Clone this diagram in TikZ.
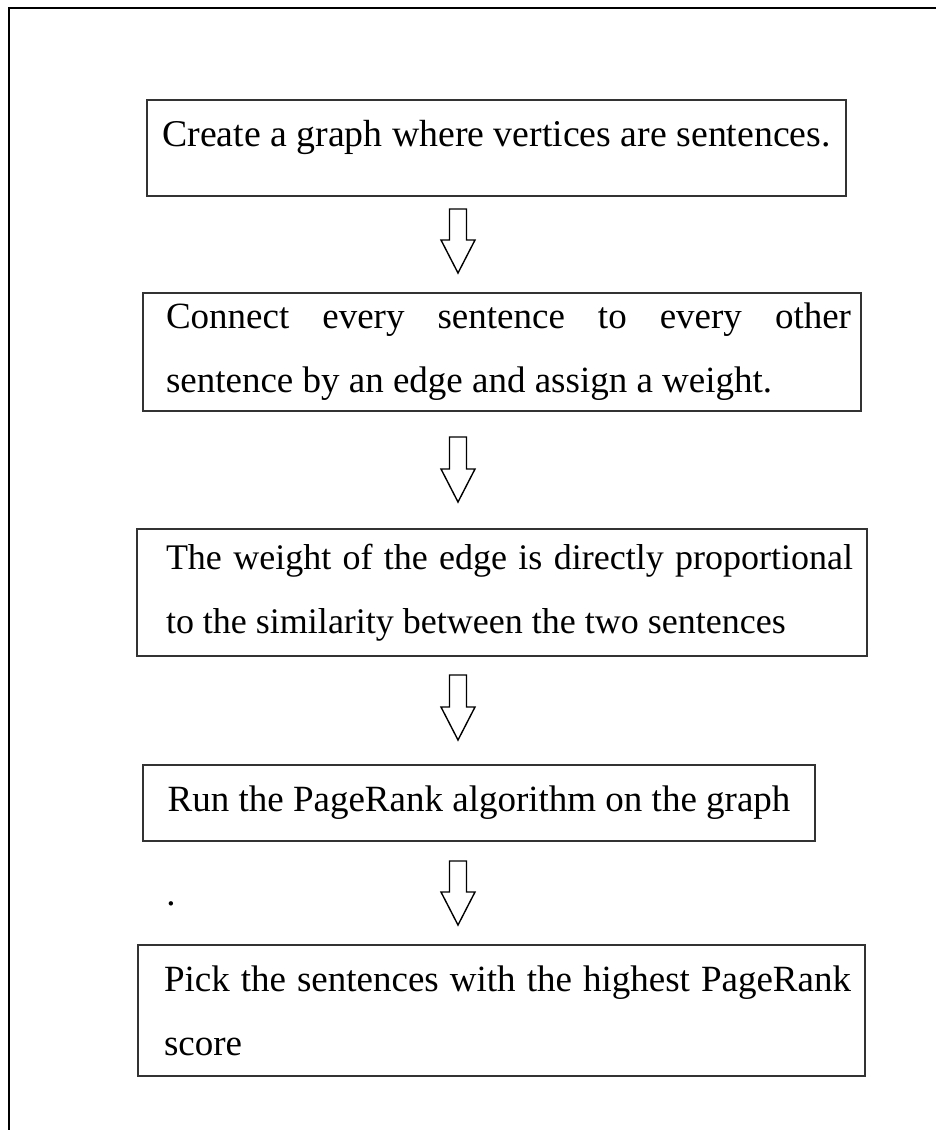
\documentclass[tikz,border=0pt]{standalone}
\usepackage{fontspec}
\setmainfont{Liberation Serif}
\usetikzlibrary{calc}

\tikzset{
  stepbox/.style={draw=black!80, line width=1pt, inner xsep=0pt, inner ysep=0pt, anchor=north west},
  indentleft/.style={align=justify, execute at begin node={\spaceskip=0pt\xspaceskip=0pt\rightskip=0pt\leftskip=#1\relax\tolerance=10000\hyphenpenalty=10000\relax}},
  hollow/.style={draw, line width=0.7pt, line join=miter,
    to path={($(\tikztostart)+(-8.5,0)$) -- ($(\tikztostart)+(8.5,0)$)
      -- ($(\tikztotarget)+(8.5,-33)$) -- ($(\tikztotarget)+(17,-33)$)
      -- (\tikztotarget) -- ($(\tikztotarget)+(-17,-33)$)
      -- ($(\tikztotarget)+(-8.5,-33)$) -- cycle}}
}

\begin{document}
\begin{tikzpicture}[x=0.5pt, y=-0.5pt, font=\fontsize{18.5}{32}\selectfont]
  \useasboundingbox (0,0) rectangle (936,1130);
  \draw[line width=1pt] (9,1130) -- (9,8) -- (936,8);

  \node[stepbox, minimum width=349.5pt, text height=23pt, text depth=25pt, font=\fontsize{18.9}{32}\selectfont] (graph) at (146,99)
    {Create a graph where vertices are sentences.};
  \node[stepbox, minimum width=359pt, minimum height=59pt, text width=349pt, indentleft=6.5pt] (connect) at (142,292)
    {Connect every sentence to every other\linebreak sentence by an edge and assign a weight.};
  \node[stepbox, minimum width=365pt, minimum height=63.5pt, text width=351pt, indentleft=7.5pt, font=\fontsize{18}{32}\selectfont] (weight) at (136,528)
    {The weight of the edge is directly proportional to the similarity between the two sentences};
  \node[stepbox, minimum width=336pt, minimum height=38pt] (rank) at (142,764)
    {Run the PageRank algorithm on the graph};
  \node[stepbox, minimum width=363.5pt, minimum height=65.5pt, text width=349.5pt, indentleft=6pt] (pick) at (137,944)
    {Pick the sentences with the highest PageRank score};
  \node[anchor=base west, inner sep=0pt] (dot) at (166,905) {.};

  % arrows between the steps
  \coordinate (axis) at (458,0);
  \coordinate (a1) at ([yshift=-6pt]graph.south -| axis);
  \coordinate (b1) at ([yshift=9.5pt]connect.north -| axis);
  \coordinate (a2) at ([yshift=-12.5pt]connect.south -| axis);
  \coordinate (b2) at ([yshift=13pt]weight.north -| axis);
  \coordinate (a3) at ([yshift=-9pt]weight.south -| axis);
  \coordinate (b3) at ([yshift=12pt]rank.north -| axis);
  \coordinate (a4) at ([yshift=-9.5pt]rank.south -| axis);
  \coordinate (b4) at ([yshift=9.5pt]pick.north -| axis);
  \draw[hollow] (a1) to (b1);
  \draw[hollow] (a2) to (b2);
  \draw[hollow] (a3) to (b3);
  \draw[hollow] (a4) to (b4);
\end{tikzpicture}
\end{document}
